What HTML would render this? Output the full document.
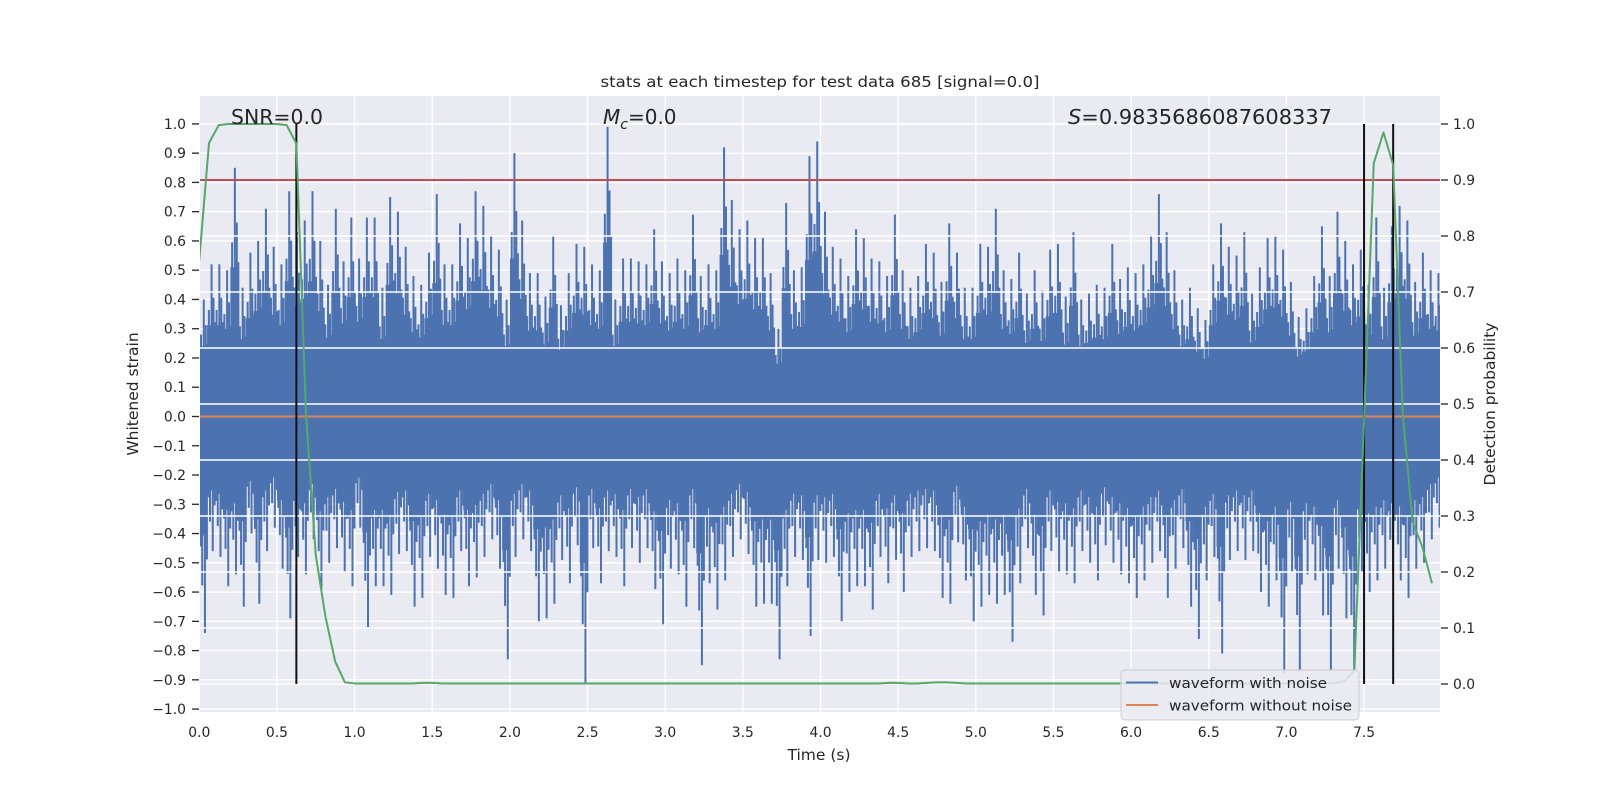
<!DOCTYPE html>
<html><head><meta charset="utf-8"><style>
html,body{margin:0;padding:0;background:#fff;}
svg{display:block;font-family:"DejaVu Sans","Liberation Sans",sans-serif;}
</style></head><body>
<svg id="chart" width="1600" height="800" viewBox="0 0 1600 800" xmlns="http://www.w3.org/2000/svg">
<defs><clipPath id="plotclip"><rect x="200" y="96" width="1240" height="616"/></clipPath></defs>
<rect x="200" y="96" width="1240" height="616" fill="#EAEAF2"/>
<g id="gridBelow"></g>
<g id="wave" clip-path="url(#plotclip)"></g>
<g id="gridAbove"></g>
<g id="overlays" clip-path="url(#plotclip)"></g>
<g id="axes"></g>
<text x="820" y="87" text-anchor="middle" font-size="15" fill="#262626" textLength="439" lengthAdjust="spacingAndGlyphs">stats at each timestep for test data 685 [signal=0.0]</text>
<text x="231" y="124" font-size="20" fill="#262626" textLength="92" lengthAdjust="spacingAndGlyphs">SNR=0.0</text>
<text x="603" y="124" font-size="20" fill="#262626"><tspan font-style="italic">M</tspan><tspan font-size="14" dy="5" font-style="italic">c</tspan><tspan dy="-5">=0.0</tspan></text>
<text x="1068" y="124" font-size="20" fill="#262626" textLength="264" lengthAdjust="spacingAndGlyphs"><tspan font-style="italic">S</tspan>=0.9835686087608337</text>
<text x="819" y="760" text-anchor="middle" font-size="15.5" fill="#262626">Time (s)</text>
<text x="0" y="0" transform="translate(138,394) rotate(-90)" text-anchor="middle" font-size="15.5" fill="#262626">Whitened strain</text>
<text x="0" y="0" transform="translate(1495,404) rotate(-90)" text-anchor="middle" font-size="15.5" fill="#262626">Detection probability</text>
<g>
<rect x="1121" y="670" width="238" height="50" rx="4" fill="#EAEAF2" fill-opacity="0.85" stroke="#cccccc" stroke-width="1"/>
<line x1="1126" y1="682.5" x2="1158" y2="682.5" stroke="#4C72B0" stroke-width="2"/>
<text x="1169" y="688" font-size="14.5" fill="#262626" textLength="158" lengthAdjust="spacingAndGlyphs">waveform with noise</text>
<line x1="1126" y1="705" x2="1158" y2="705" stroke="#DD8452" stroke-width="2"/>
<text x="1169" y="710.5" font-size="14.5" fill="#262626" textLength="183" lengthAdjust="spacingAndGlyphs">waveform without noise</text>
</g>
</svg>
<script>
const binWidth = 0.05;
const upperPeaks = [
0.40,0.52,0.52,0.50,0.85,0.44,0.56,0.60,0.71,0.58,
0.52,0.77,0.63,0.67,0.77,0.60,0.45,0.71,0.53,0.68,
0.54,0.68,0.68,0.44,0.75,0.70,0.58,0.48,0.45,0.56,
0.76,0.52,0.52,0.66,0.61,0.77,0.72,0.62,0.57,0.40,
0.90,0.67,0.49,0.49,0.41,0.62,0.38,0.49,0.59,0.58,
0.52,0.50,0.99,0.40,
0.54,0.54,0.53,0.52,0.64,0.53,0.49,0.54,0.50,0.69,
0.48,0.52,0.50,0.92,0.74,0.64,0.67,0.61,0.61,0.49,
0.30,0.73,0.50,0.51,0.89,0.94,0.70,0.58,0.54,0.48,
0.64,0.61,0.54,0.53,0.48,0.69,0.50,0.44,0.48,0.59,
0.56,0.46,0.66,0.56,0.44,0.44,0.59,0.58,0.71,0.50,
0.47,0.56,0.42,
0.50,0.43,0.57,0.59,0.41,0.63,0.40,0.42,0.45,0.44,
0.59,0.47,0.51,0.49,0.52,0.62,0.76,0.63,0.50,0.40,
0.44,0.37,0.33,0.52,0.66,0.58,0.55,0.63,0.42,0.51,
0.61,0.62,0.57,0.46,0.34,0.37,0.48,0.65,0.48,0.70,
0.60,0.52,0.57,0.45,0.68,0.44,0.65,0.72,0.67,0.46,
0.56,0.50,0.49];
const lowerPeaks = [
-0.74,-0.46,-0.48,-0.58,-0.54,-0.65,-0.40,-0.64,-0.46,-0.38,
-0.52,-0.69,-0.48,-0.54,-0.42,-0.59,-0.50,-0.45,-0.53,-0.58,
-0.38,-0.72,-0.58,-0.58,-0.61,-0.47,-0.46,-0.65,-0.62,-0.48,
-0.52,-0.61,-0.62,-0.46,-0.58,-0.55,-0.48,-0.42,-0.52,-0.83,
-0.48,-0.42,-0.46,-0.70,-0.69,-0.64,-0.49,-0.57,-0.44,-0.91,
-0.45,-0.57,-0.46,-0.48,
-0.58,-0.45,-0.50,-0.45,-0.59,-0.71,-0.52,-0.54,-0.65,-0.45,
-0.85,-0.57,-0.66,-0.56,-0.48,-0.42,-0.47,-0.65,-0.64,-0.64,
-0.83,-0.58,-0.48,-0.49,-0.75,-0.49,-0.50,-0.48,-0.70,-0.60,
-0.58,-0.58,-0.66,-0.48,-0.57,-0.49,-0.60,-0.48,-0.46,-0.45,
-0.46,-0.62,-0.64,-0.43,-0.56,-0.70,-0.65,-0.61,-0.64,-0.61,
-0.77,-0.57,-0.45,
-0.61,-0.68,-0.46,-0.53,-0.54,-0.57,-0.46,-0.50,-0.56,-0.44,
-0.50,-0.54,-0.57,-0.62,-0.56,-0.50,-0.46,-0.62,-0.52,-0.45,
-0.65,-0.76,-0.56,-0.48,-0.81,-0.49,-0.46,-0.49,-0.46,-0.60,
-0.65,-0.56,-0.88,-0.53,-0.87,-0.54,-0.56,-0.68,-0.87,-0.52,
-0.69,-0.87,-0.53,-0.60,-0.56,-0.52,-0.54,-0.56,-0.62,-0.52,
-0.50,-0.42,-0.38];
const probStep = 0.0625;
const detectionProb = [
0.757,0.966,0.998,1.0,1.0,1.0,1.0,1.0,1.0,0.998,0.965,0.48,0.23,0.12,0.04,0.003,
0.001,0.001,0.001,0.001,0.001,0.001,0.001,0.002,0.002,0.001,0.001,0.001,0.001,0.001,0.001,0.001,
0.001,0.001,0.001,0.001,0.001,0.001,0.001,0.001,0.001,0.001,0.001,0.001,0.001,0.001,0.001,0.001,
0.001,0.001,0.001,0.001,0.001,0.001,0.001,0.001,0.001,0.001,0.001,0.001,0.001,0.001,0.001,0.001,
0.001,0.001,0.001,0.001,0.001,0.001,0.001,0.002,0.002,0.001,0.001,0.002,0.003,0.003,0.002,0.001,
0.001,0.001,0.001,0.001,0.001,0.001,0.001,0.001,0.001,0.001,0.001,0.001,0.001,0.001,0.001,0.001,
0.001,0.001,0.001,0.001,0.001,0.001,0.001,0.001,0.001,0.001,0.001,0.001,0.001,0.001,0.001,0.001,
0.001,0.001,0.001,0.001,0.001,0.002,0.005,0.024,0.47,0.93,0.985,0.927,0.48,0.29,0.245,0.18];
const thresholdValue = 0.9;
const markerTimes = [0.625, 7.5, 7.6875];
const xTicks = [0,0.5,1.0,1.5,2.0,2.5,3.0,3.5,4.0,4.5,5.0,5.5,6.0,6.5,7.0,7.5];
const xTickLabels = ["0.0","0.5","1.0","1.5","2.0","2.5","3.0","3.5","4.0","4.5","5.0","5.5","6.0","6.5","7.0","7.5"];
const yTicks = [-1.0,-0.9,-0.8,-0.7,-0.6,-0.5,-0.4,-0.3,-0.2,-0.1,0.0,0.1,0.2,0.3,0.4,0.5,0.6,0.7,0.8,0.9,1.0];
const y2Ticks = [0.0,0.1,0.2,0.3,0.4,0.5,0.6,0.7,0.8,0.9,1.0];

const NS = "http://www.w3.org/2000/svg";
const X = t => 199.3 + 155.3 * t;
const YL = v => 416.5 - 292.6 * v;
const YR = p => 684 - 560 * p;
function mk(tag, attrs, parent) {
  const el = document.createElementNS(NS, tag);
  for (const k in attrs) el.setAttribute(k, attrs[k]);
  parent.appendChild(el);
  return el;
}
const gB = document.getElementById('gridBelow');
const gA = document.getElementById('gridAbove');
const wave = document.getElementById('wave');
const ov = document.getElementById('overlays');
const axes = document.getElementById('axes');

xTicks.forEach((t, i) => {
  const l = mk('line', {x1: X(t), x2: X(t), y1: 96, y2: 712, stroke: '#fff', 'stroke-width': 1.4}, gB);
  
  
  const tx = mk('text', {x: X(t), y: 737, 'text-anchor': 'middle', 'font-size': 13.9, fill: '#262626'}, axes);
  tx.textContent = xTickLabels[i];
  
  
});
yTicks.forEach(v => {
  const l = mk('line', {x1: 200, x2: 1440, y1: YL(v), y2: YL(v), stroke: '#fff', 'stroke-width': 1.4}, gB);
  
  
  const tk = mk('line', {x1: 192, x2: 199, y1: YL(v), y2: YL(v), stroke: '#262626', 'stroke-width': 1.3}, axes);
  
  
  const tx = mk('text', {x: 186, y: YL(v) + 5, 'text-anchor': 'end', 'font-size': 13.9, fill: '#262626'}, axes);
  tx.textContent = (v < 0 ? '\u2212' : '') + Math.abs(v).toFixed(1);
  
  
});

const bw = binWidth * 155.3;
const upF = [0.7, 1, 0.78, 0.62];
const loF = [0.78, 1, 0.66, 0.6];
const pos = [0.1, 0.45, 0.7, 0.9];
upperPeaks.forEach((u, i) => {
  const lo = lowerPeaks[i];
  const x0 = X(i * binWidth);
  const b = mk('rect', {x: x0, y: YL(u * 0.6), width: bw + 0.3, height: YL(lo * 0.55) - YL(u * 0.6), fill: '#4C72B0'}, wave);
  
  
  for (let k = 0; k < 4; k++) {
    const s = mk('rect', {x: x0 + pos[k] * bw, y: YL(u * upF[k]), width: 2, height: YL(0) - YL(u * upF[k]), fill: '#4C72B0'}, wave);
    
    
    const s2 = mk('rect', {x: x0 + ((pos[k] + 0.15) % 1) * bw, y: YL(0), width: 2, height: YL(lo * loF[k]) - YL(0), fill: '#4C72B0'}, wave);
    
    
  }
});
const clean = mk('line', {x1: 200, x2: 1440, y1: YL(0), y2: YL(0), stroke: '#DD8452', 'stroke-width': 2}, wave);



y2Ticks.forEach(p => {
  const l = mk('line', {x1: 200, x2: 1440, y1: YR(p), y2: YR(p), stroke: '#fff', 'stroke-width': 1.4}, gA);
  
  
  const tk = mk('line', {x1: 1441, x2: 1448, y1: YR(p), y2: YR(p), stroke: '#262626', 'stroke-width': 1.3}, axes);
  
  
  const tx = mk('text', {x: 1453, y: YR(p) + 5, 'font-size': 13.9, fill: '#262626'}, axes);
  tx.textContent = p.toFixed(1);
  
  
});

const thr = mk('line', {x1: 200, x2: 1440, y1: YR(thresholdValue), y2: YR(thresholdValue), stroke: '#C44E52', 'stroke-width': 2}, ov);


markerTimes.forEach(t => {
  const m = mk('line', {x1: X(t), x2: X(t), y1: YR(1), y2: YR(0), stroke: '#111', 'stroke-width': 2}, ov);
  
  
});
const pts = detectionProb.map((p, k) => X(k * probStep).toFixed(2) + ',' + YR(p).toFixed(2)).join(' ');
const gl = mk('polyline', {points: pts, fill: 'none', stroke: '#55A868', 'stroke-width': 2, 'stroke-linejoin': 'round'}, ov);


</script>
</body></html>
